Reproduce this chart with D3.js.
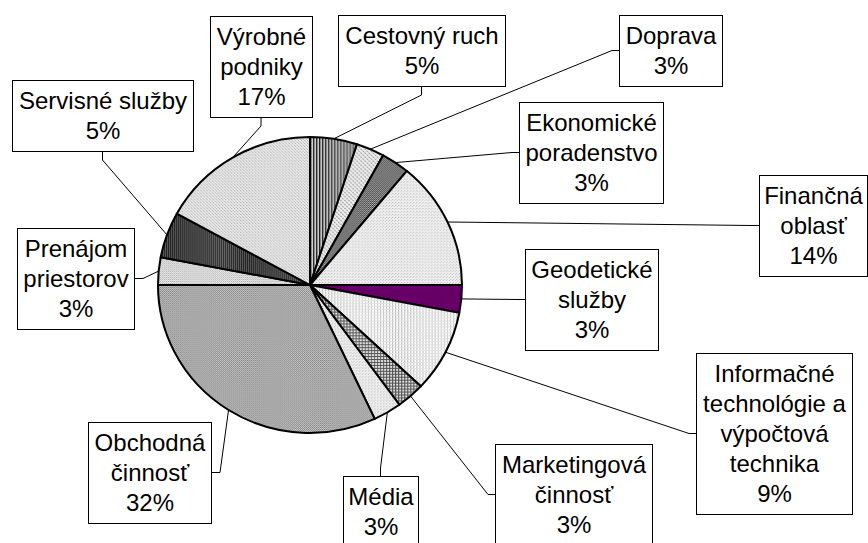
<!DOCTYPE html>
<html>
<head>
<meta charset="utf-8">
<script src="https://cdn.jsdelivr.net/npm/d3@7"></script>
<style>
  body { margin: 0; background: #fff; }
  text { font-family: "Liberation Sans", Arial, sans-serif; }
</style>
</head>
<body>
<div class="chart"></div>
<script>
// data
const categories = ["Cestovný ruch", "Doprava", "Ekonomické poradenstvo", "Finančná oblasť",
  "Geodetické služby", "Informačné technológie a výpočtová technika", "Marketingová činnosť",
  "Média", "Obchodná činnosť", "Prenájom priestorov", "Servisné služby", "Výrobné podniky"];
const shares = [5, 3, 3, 14, 3, 9, 3, 3, 32, 3, 5, 17];
const labelLines = [["Cestovný ruch"], ["Doprava"], ["Ekonomické", "poradenstvo"], ["Finančná", "oblasť"],
  ["Geodetické", "služby"], ["Informačné", "technológie a", "výpočtová", "technika"], ["Marketingová", "činnosť"],
  ["Média"], ["Obchodná", "činnosť"], ["Prenájom", "priestorov"], ["Servisné služby"], ["Výrobné", "podniky"]];

// label box layout (top-left corner, width, side where the leader leaves)
const boxes = [
  {x: 338, y: 15, w: 167, side: "bottom"},
  {x: 619, y: 15, w: 103, side: "left"},
  {x: 519, y: 102, w: 144, side: "left"},
  {x: 759, y: 175, w: 108, side: "left"},
  {x: 525, y: 249, w: 133, side: "left"},
  {x: 696, y: 353, w: 156, side: "left"},
  {x: 495, y: 444, w: 157, side: "left"},
  {x: 343, y: 476, w: 75, side: "top"},
  {x: 88, y: 422, w: 123, side: "right"},
  {x: 17, y: 228, w: 117, side: "right"},
  {x: 12, y: 80, w: 181, side: "bottom"},
  {x: 210, y: 16, w: 102, side: "bottom"}
];

const width = 868, height = 543;
const cx = 310, cy = 285, radius = 150;
const sx = 152 / 150, sy = 148 / 150;

const svg = d3.select(".chart").append("svg")
  .attr("width", width)
  .attr("height", height);

const defs = svg.append("defs");
function addPattern(id, w, h, bg, cells) {
  const p = defs.append("pattern")
    .attr("id", id)
    .attr("patternUnits", "userSpaceOnUse")
    .attr("width", w).attr("height", h);
  p.append("rect").attr("width", w).attr("height", h).attr("fill", bg);
  cells.forEach(c => p.append("rect")
    .attr("x", c[0]).attr("y", c[1]).attr("width", c[2]).attr("height", c[3]).attr("fill", c[4]));
  return "url(#" + id + ")";
}

const fills = [
  addPattern("p0", 3, 3, "#e0e0e0", [[0, 0, 1, 3, "#222"], [1, 0, 1, 3, "#777"]]),
  addPattern("p1", 4, 4, "#eeeeee", [[0, 0, 1, 1, "#777"], [2, 2, 1, 1, "#777"], [1, 1, 1, 1, "#bbb"], [3, 3, 1, 1, "#bbb"]]),
  addPattern("p2", 2, 2, "#bbbbbb", [[0, 0, 1, 1, "#333"], [1, 1, 1, 1, "#333"]]),
  addPattern("p3", 3, 3, "#efefef", [[0, 0, 1, 1, "#bbb"], [2, 1, 1, 1, "#ccc"]]),
  "#660066",
  addPattern("p5", 3, 3, "#ffffff", [[0, 0, 1, 3, "#bbb"], [0, 0, 3, 1, "#e2e2e2"]]),
  addPattern("p6", 3, 3, "#e0e0e0", [[0, 0, 1, 3, "#555"], [0, 0, 3, 1, "#555"]]),
  addPattern("p7", 3, 3, "#eeeeee", [[0, 0, 1, 1, "#bbb"], [1, 2, 1, 1, "#ccc"]]),
  addPattern("p8", 2, 2, "#c8c8c8", [[0, 0, 1, 1, "#808080"], [1, 1, 1, 1, "#909090"]]),
  addPattern("p9", 2, 2, "#eeeeee", [[0, 0, 1, 1, "#aaa"], [1, 1, 1, 1, "#c8c8c8"]]),
  addPattern("p10", 2, 2, "#666666", [[0, 0, 1, 2, "#222"]]),
  addPattern("p11", 3, 3, "#eaeaea", [[0, 0, 1, 1, "#aaa"], [1, 1, 1, 1, "#ccc"], [2, 2, 1, 1, "#bbb"]])
];

const pie = d3.pie().sort(null).value(d => d)(shares);
const arc = d3.arc().innerRadius(0).outerRadius(radius);
const pct = d3.format(".0%");

const lineH = 30;
function boxH(i) { return 41 + lineH * labelLines[i].length; }

// leader lines
const leaders = svg.append("g");
pie.forEach((d, i) => {
  const b = boxes[i], h = boxH(i);
  const mid = (d.startAngle + d.endAngle) / 2;
  const px = cx + radius * sx * Math.sin(mid), py = cy - radius * sy * Math.cos(mid);
  let ax, ay, ex, ey;
  if (b.side === "left") { ax = b.x; ay = b.y + h / 2; ex = ax - 7; ey = ay; }
  else if (b.side === "right") { ax = b.x + b.w; ay = b.y + h / 2; ex = ax + 9; ey = ay; }
  else if (b.side === "bottom") { ax = b.x + b.w / 2; ay = b.y + h; ex = ax; ey = ay + 9; }
  else { ax = b.x + b.w / 2; ay = b.y; ex = ax; ey = ay - 8; }
  leaders.append("polyline")
    .attr("points", [[ax, ay], [ex, ey], [px, py]].map(p => p.join(",")).join(" "))
    .attr("fill", "none")
    .attr("stroke", "#000")
    .attr("stroke-width", 1);
});

// pie
const g = svg.append("g")
  .attr("transform", `translate(${cx},${cy}) scale(${sx},${sy})`);
g.selectAll("path")
  .data(pie)
  .enter()
  .append("path")
  .attr("d", arc)
  .attr("fill", (d, i) => fills[i])
  .attr("stroke", "#000")
  .attr("stroke-width", 2)
  .attr("stroke-linejoin", "round");

// label boxes
const labels = svg.append("g");
boxes.forEach((b, i) => {
  const h = boxH(i);
  const lg = labels.append("g");
  lg.append("rect")
    .attr("x", b.x + 0.5).attr("y", b.y + 0.5)
    .attr("width", b.w).attr("height", h)
    .attr("fill", "#fff")
    .attr("stroke", "#000")
    .attr("stroke-width", 1);
  const lines = labelLines[i].concat([pct(shares[i] / 100)]);
  lg.selectAll("text")
    .data(lines)
    .enter()
    .append("text")
    .attr("x", b.x + b.w / 2 + 0.5)
    .attr("y", (d, j) => b.y + 28.5 + j * lineH)
    .attr("text-anchor", "middle")
    .attr("font-size", 24)
    .attr("fill", "#000")
    .text(d => d);
});
</script>
</body>
</html>
